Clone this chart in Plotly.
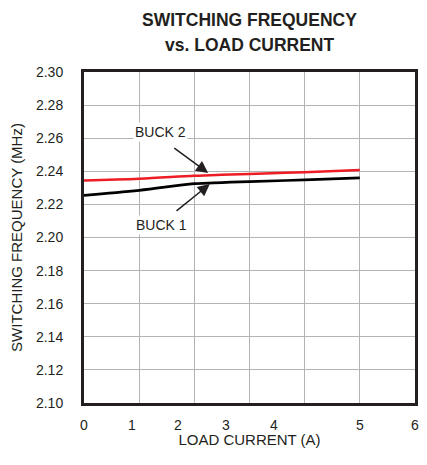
import plotly.graph_objects as go

# Data
load_current = [0, 1, 2, 2.5, 3, 4, 5]
buck1 = [2.2255, 2.2285, 2.2325, 2.2332, 2.2338, 2.2348, 2.2360]
buck2 = [2.2345, 2.2355, 2.2373, 2.2379, 2.2384, 2.2395, 2.2408]

x_tick_labels = ["0", "1", "2", "3", "4", "5", "6"]
x_tick_pos = [0, 0.87, 1.70, 2.57, 3.44, 5.0, 6.0]
y_ticks = [2.10, 2.12, 2.14, 2.16, 2.18, 2.20, 2.22, 2.24, 2.26, 2.28, 2.30]

FONT = "Liberation Sans, Arial"
INK = "#231f20"

# figure geometry (page has an 8px body margin)
W, H = 419, 440
L, R, T, B = 76, 12, 64, 45
PW, PH = W - L - R, H - T - B


def px_x(fx):
    return (fx - L) / PW


def px_y(fy):
    return (H - B - fy) / PH


fig = go.Figure()
fig.add_trace(go.Scatter(x=load_current, y=buck2, mode="lines",
                         line=dict(color="#ee1c25", width=2.5, shape="spline"),
                         name="BUCK 2", showlegend=False))
fig.add_trace(go.Scatter(x=load_current, y=buck1, mode="lines",
                         line=dict(color="#000000", width=2.7, shape="spline"),
                         name="BUCK 1", showlegend=False))

# arrows
fig.add_annotation(x=2.25, y=2.2390, ax=1.61, ay=2.2547, axref="x", ayref="y",
                   text="", showarrow=True, arrowhead=2, arrowsize=1.6, arrowwidth=1.5,
                   arrowcolor=INK, standoff=0)
fig.add_annotation(x=2.28, y=2.2323, ax=1.65, ay=2.2154, axref="x", ayref="y",
                   text="", showarrow=True, arrowhead=2, arrowsize=1.6, arrowwidth=1.5,
                   arrowcolor=INK, standoff=0)

# labels
fig.add_annotation(xref="x", yref="y", x=1.38, y=2.2637, text="BUCK 2", showarrow=False,
                   bgcolor="white", font=dict(size=14, color=INK))
fig.add_annotation(xref="x", yref="y", x=1.41, y=2.2076, text="BUCK 1", showarrow=False,
                   bgcolor="white", font=dict(size=14, color=INK))

# title
fig.add_annotation(xref="paper", yref="paper", x=px_x(241), y=px_y(12),
                   xanchor="center", yanchor="middle",
                   text="<b>SWITCHING FREQUENCY</b>", showarrow=False,
                   font=dict(size=17.5, color=INK))
fig.add_annotation(xref="paper", yref="paper", x=px_x(241), y=px_y(37),
                   xanchor="center", yanchor="middle",
                   text="<b>vs. LOAD CURRENT</b>", showarrow=False,
                   font=dict(size=17.5, color=INK))

# side label
fig.add_annotation(xref="paper", yref="paper", x=px_x(414), y=px_y(102),
                   xanchor="center", yanchor="middle",
                   text="MAX16930 toc07", showarrow=False, textangle=-90,
                   font=dict(size=8, color=INK))

fig.update_layout(
    width=W, height=H,
    margin=dict(l=L, r=R, t=T, b=B, autoexpand=False),
    paper_bgcolor="white", plot_bgcolor="white",
    font=dict(family=FONT, size=14, color=INK),
    xaxis=dict(range=[0, 6], tickvals=x_tick_pos, ticktext=x_tick_labels,
               showgrid=False, ticks="outside", ticklen=7, tickcolor="rgba(0,0,0,0)",
               zeroline=False, automargin=False,
               showline=True, linecolor=INK, linewidth=3, mirror=True,
               minor=dict(dtick=1, tick0=0, showgrid=True, gridcolor="#b3b3b3", gridwidth=1),
               title=dict(text="LOAD CURRENT (A)", standoff=8, font=dict(size=15)),
               tickfont=dict(size=14), fixedrange=True),
    yaxis=dict(range=[2.10, 2.30], tickvals=y_ticks, tickformat=".2f",
               showgrid=True, gridcolor="#b3b3b3", gridwidth=1,
               ticks="outside", ticklen=15, tickcolor="rgba(0,0,0,0)",
               zeroline=False, automargin=False,
               showline=True, linecolor=INK, linewidth=3, mirror=True,
               title=dict(text="SWITCHING FREQUENCY (MHz)", standoff=13, font=dict(size=15)),
               tickfont=dict(size=14), fixedrange=True),
)

fig.write_html("out.html")
